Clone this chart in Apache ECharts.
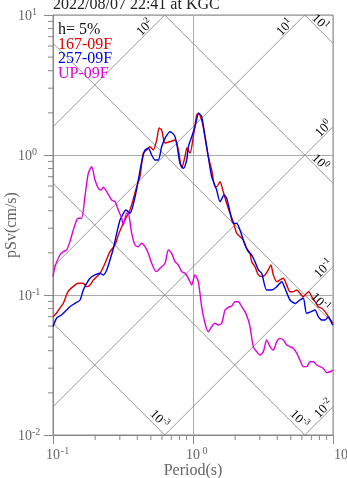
<!DOCTYPE html>
<html><head><meta charset="utf-8">
<script src="https://cdn.jsdelivr.net/npm/echarts@6/dist/echarts.min.js"></script>
<style>html,body{margin:0;padding:0;background:#fff;}#c{width:347px;height:478px;}</style>
</head><body><div id="c"></div>
<script>
// ---------- data ----------
const titleText = '2022/08/07 22:41 at KGC';
const legendLines = ['h= 5%', '167-09F', '257-09F', 'UP-09F'];
const seriesNames = ['167-09F', '257-09F', 'UP-09F'];
const xTicks = [0.1, 1, 10];
const yTicks = [0.01, 0.1, 1, 10];
const accelExps = [2, 1, 0, -1, -2];        // constant pSa lines (gal)
const dispExps = [1, 0, -1, -2, -3];        // constant Sd lines (cm)
const dispLabelExps = [1, 0, -1, -3, -3];   // labels as printed

const t167 = [0.1,0.106,0.112,0.1185,0.128,0.139,0.151,0.1645,0.174,0.1838,0.194,0.2167,0.235,0.2553,0.2773,0.2926,0.3096,0.3267,0.3548,0.3963,0.418,0.4416,0.4667,0.4931,0.52,0.5505,0.573,0.597,0.631,0.685,0.7438,0.7857,0.8303,0.877,0.905,0.9518,1.005,1.062,1.091,1.153,1.218,1.286,1.36,1.436,1.476,1.559,1.644,1.74,1.837,1.94,2.05,2.166,2.287,2.418,2.553,2.625,2.773,2.93,3.094,3.27,3.452,3.6,3.75,3.963,4.18,4.416,4.667,4.931,5.2,5.505,5.808,6.136,6.486,6.74,7.042,7.438,7.857,8.303,8.77,9.265,9.788,10];
const sv167 = [0.0695,0.0744,0.0806,0.0874,0.1056,0.1147,0.1212,0.1212,0.1147,0.118,0.128,0.143,0.168,0.204,0.2276,0.2683,0.3076,0.3436,0.4047,0.594,0.70,1.033,1.086,1.146,1.086,1.279,1.559,1.509,1.218,1.245,1.279,1.086,0.8075,0.9724,1.122,1.033,1.351,1.93,1.986,1.778,1.351,0.9724,0.7815,0.594,0.594,0.6446,0.547,0.4516,0.3835,0.332,0.2758,0.2609,0.247,0.2156,0.1985,0.173,0.1593,0.139,0.1352,0.139,0.151,0.1638,0.139,0.1245,0.128,0.1316,0.118,0.1056,0.1056,0.1086,0.1028,0.0972,0.1028,0.1056,0.0972,0.0896,0.0825,0.0804,0.076,0.070,0.0645,0.063];

const t257 = [0.1,0.106,0.115,0.125,0.132,0.1436,0.156,0.1645,0.174,0.1838,0.1995,0.2167,0.2287,0.242,0.2553,0.27,0.285,0.301,0.3096,0.332,0.3548,0.3855,0.4068,0.4301,0.454,0.4795,0.507,0.5354,0.565,0.597,0.631,0.685,0.734,0.7647,0.8077,0.853,0.9016,0.9265,0.9788,1.033,1.1,1.153,1.218,1.286,1.36,1.476,1.559,1.67,1.74,1.837,1.94,2.05,2.166,2.227,2.352,2.483,2.625,2.773,2.93,3.094,3.36,3.648,3.963,4.3,4.54,4.931,5.354,5.808,6.136,6.486,6.96,7.438,7.857,8.303,8.77,9.265,9.788,10];
const sv257 = [0.0594,0.0682,0.072,0.0781,0.0825,0.0872,0.0921,0.1086,0.1212,0.1316,0.139,0.1429,0.139,0.151,0.1778,0.2156,0.2758,0.3436,0.363,0.4047,0.3835,0.5036,0.663,0.896,1.086,1.117,1.0,0.921,0.921,1.146,1.316,1.466,1.39,1.212,0.873,0.8035,0.921,1.146,1.351,1.592,1.986,1.878,1.351,0.9724,0.70,0.5623,0.4637,0.518,0.49,0.3938,0.325,0.325,0.2912,0.2683,0.2276,0.204,0.193,0.173,0.151,0.1429,0.1086,0.1086,0.1147,0.1245,0.1116,0.0921,0.0872,0.0921,0.0947,0.074,0.076,0.0781,0.070,0.0663,0.0663,0.070,0.0628,0.0611];

const tUP = [0.1,0.1033,0.112,0.1185,0.125,0.132,0.1396,0.1476,0.1516,0.160,0.169,0.1787,0.189,0.1995,0.211,0.22,0.2287,0.242,0.2625,0.2773,0.2926,0.3096,0.3177,0.3358,0.345,0.3548,0.3648,0.3855,0.4068,0.4301,0.454,0.4795,0.507,0.545,0.5808,0.631,0.6664,0.7042,0.7438,0.7857,0.8303,0.877,0.9265,0.9788,1.033,1.091,1.153,1.218,1.286,1.36,1.436,1.517,1.603,1.693,1.788,1.889,1.995,2.107,2.227,2.352,2.483,2.553,2.697,2.851,3.01,3.18,3.36,3.548,3.75,3.963,4.18,4.416,4.667,4.931,5.2,5.505,5.808,6.136,6.486,6.85,7.236,7.647,8.077,8.53,9.016,9.518,10];
const svUP = [0.1352,0.1593,0.193,0.204,0.2097,0.2403,0.2912,0.3436,0.3533,0.3533,0.5036,0.74,0.825,0.663,0.578,0.5623,0.5877,0.547,0.4772,0.4637,0.4047,0.3533,0.3162,0.3835,0.3835,0.332,0.2758,0.2276,0.2214,0.234,0.2214,0.1985,0.1684,0.1468,0.155,0.1684,0.2097,0.1985,0.173,0.1638,0.1468,0.1429,0.1316,0.118,0.139,0.1245,0.0825,0.0628,0.0547,0.0594,0.0628,0.0611,0.0628,0.0781,0.0817,0.0834,0.0896,0.0896,0.0825,0.076,0.0663,0.0594,0.0428,0.0394,0.0373,0.0394,0.0477,0.0428,0.0405,0.0464,0.049,0.0477,0.044,0.0428,0.0416,0.0384,0.0343,0.0308,0.0308,0.0334,0.0334,0.0316,0.0308,0.0299,0.0279,0.0283,0.0291];

// ---------- style ----------
const serif = "'Liberation Serif','Times New Roman',serif";
const curveColors = ['#dd0000', '#0000dd', '#dd00dd'];
const axisGray = '#888';
const textGray = '#666';

const X_MIN = xTicks[0], X_MAX = xTicks[xTicks.length - 1];
const Y_MIN = yTicks[0], Y_MAX = yTicks[yTicks.length - 1];
const TWO_PI = 2 * Math.PI;
const MINOR = [2, 3, 4, 5, 6, 7, 8, 9];

function zip(t, v) { const n = Math.min(t.length, v.length); const out = []; for (let i = 0; i < n; i++) out.push([t[i], v[i]]); return out; }

function accelSeg(A) { // pSv = A*T/(2π)
  const t0 = Math.max(X_MIN, Y_MIN * TWO_PI / A), t1 = Math.min(X_MAX, Y_MAX * TWO_PI / A);
  return t0 < t1 ? [[t0, A * t0 / TWO_PI], [t1, A * t1 / TWO_PI]] : null;
}
function dispSeg(D) { // pSv = 2πD/T
  const t0 = Math.max(X_MIN, TWO_PI * D / Y_MAX), t1 = Math.min(X_MAX, TWO_PI * D / Y_MIN);
  return t0 < t1 ? [[t0, TWO_PI * D / t0], [t1, TWO_PI * D / t1]] : null;
}

const series = [];
const labelData = [];
accelExps.forEach((k, i) => {
  const seg = accelSeg(Math.pow(10, k)); if (!seg) return;
  series.push({ type: 'line', data: seg, symbol: 'none', silent: true, animation: false, z: 1,
    lineStyle: { color: '#8a8a8a', width: 0.9 } });
  const e = seg[1];
  labelData.push([e[0], e[1], 0, e[0] >= X_MAX * 0.999 ? 1 : 0, i]);
});
dispExps.forEach((k, i) => {
  const seg = dispSeg(Math.pow(10, k)); if (!seg) return;
  series.push({ type: 'line', data: seg, symbol: 'none', silent: true, animation: false, z: 1,
    lineStyle: { color: '#8a8a8a', width: 0.9 } });
  const e = seg[1];
  labelData.push([e[0], e[1], 1, e[0] >= X_MAX * 0.999 ? 1 : 0, i]);
});

const diagRich = {
  b: { fontFamily: serif, fontSize: 13, lineHeight: 15, color: textGray, verticalAlign: 'bottom' },
  s: { fontFamily: serif, fontSize: 9, lineHeight: 11, color: textGray, verticalAlign: 'top' }
};

series.push({
  type: 'custom', data: labelData, silent: true, animation: false, z: 3,
  renderItem: function (params, api) {
    const p = api.coord([api.value(0), api.value(1)]);
    const kind = api.value(2), edge = api.value(3), idx = api.value(4);
    const s = Math.SQRT1_2;
    let dir, nrm, rot, along, perp, exp;
    if (kind === 0) { dir = [-s, s]; nrm = [-s, -s]; rot = Math.PI / 4; along = edge ? 8 : 23; perp = 6; exp = accelExps[idx]; }
    else { dir = [-s, -s]; nrm = [s, -s]; rot = -Math.PI / 4; along = edge ? 24 : 15; perp = edge ? 6.5 : 8; exp = dispLabelExps[idx]; }
    return { type: 'text', x: p[0] + along * dir[0] + perp * nrm[0], y: p[1] + along * dir[1] + perp * nrm[1], rotation: rot,
      style: { text: '{b|10}{s|' + exp + '}', rich: diagRich, align: 'center', verticalAlign: 'middle' } };
  }
});

// minor ticks (2..9 within each decade)
const minorData = [];
for (let d = X_MIN; d < X_MAX * 0.999; d *= 10) MINOR.forEach(m => minorData.push([d * m, Y_MIN, 0]));
for (let d = Y_MIN; d < Y_MAX * 0.999; d *= 10) MINOR.forEach(m => minorData.push([X_MIN, d * m, 1]));
series.push({
  type: 'custom', data: minorData, silent: true, animation: false, z: 3,
  renderItem: function (params, api) {
    const p = api.coord([api.value(0), api.value(1)]);
    const shape = api.value(2) === 0 ? { x1: p[0], y1: p[1], x2: p[0], y2: p[1] + 5 } : { x1: p[0] - 5, y1: p[1], x2: p[0], y2: p[1] };
    return { type: 'line', shape: shape, style: { stroke: axisGray, lineWidth: 1 } };
  }
});

[[t167, sv167], [t257, sv257], [tUP, svUP]].forEach((tv, i) => {
  series.push({ type: 'line', name: seriesNames[i], data: zip(tv[0], tv[1]), symbol: 'none', smooth: 0.25,
    animation: false, z: 2, clip: true, lineStyle: { color: curveColors[i], width: 1.4 } });
});

const tickRich = {
  sp: { width: 10 },
  sp2: { width: 26 },
  b: { fontFamily: serif, fontSize: 14, lineHeight: 16, color: textGray, verticalAlign: 'bottom' },
  s: { fontFamily: serif, fontSize: 10, lineHeight: 12, color: textGray, verticalAlign: 'top', width: 10, align: 'left' }
};
const expOf = v => Math.round(Math.log10(v));

const chart = echarts.init(document.getElementById('c'), null, { renderer: 'canvas' });
chart.setOption({
  animation: false,
  backgroundColor: '#fff',
  title: { text: titleText, left: 53, top: -3, padding: 0,
    textStyle: { fontFamily: serif, fontSize: 16, fontWeight: 'normal', color: '#222' } },
  grid: { left: 53, top: 15, width: 280, height: 420, containLabel: false, outerBoundsMode: 'none',
    show: true, borderColor: axisGray, borderWidth: 1, backgroundColor: 'transparent' },
  xAxis: {
    type: 'log', logBase: 10, min: X_MIN, max: X_MAX,
    name: 'Period(s)', nameLocation: 'middle', nameGap: 28, nameMoveOverlap: false,
    nameTextStyle: { fontFamily: serif, fontSize: 16, color: textGray },
    axisLine: { lineStyle: { color: axisGray } },
    axisTick: { length: 9, lineStyle: { color: axisGray } },
    splitLine: { show: true, lineStyle: { color: '#aaa', width: 1 } },
    axisLabel: { margin: 11, rich: tickRich, hideOverlap: false,
      formatter: v => { const e = expOf(v); return (v >= X_MAX * 0.999 ? '{sp2|}' : '{sp|}') + '{b|10}{s|' + e + '}'; } }
  },
  yAxis: {
    type: 'log', logBase: 10, min: Y_MIN, max: Y_MAX,
    name: 'pSv(cm/s)', nameLocation: 'middle', nameGap: 33, nameMoveOverlap: false,
    nameTextStyle: { fontFamily: serif, fontSize: 16, color: textGray },
    axisLine: { lineStyle: { color: axisGray } },
    axisTick: { length: 9, lineStyle: { color: axisGray } },
    splitLine: { show: true, lineStyle: { color: '#aaa', width: 1 } },
    axisLabel: { margin: 35, align: 'left', rich: tickRich,
      formatter: v => '{b|10}{s|' + expOf(v) + '}' }
  },
  graphic: legendLines.map((t, i) => ({
    type: 'text', left: 58, top: 22 + i * 14.5, z: 10, silent: true,
    style: { text: t, fill: i === 0 ? '#111' : curveColors[i - 1], font: '16px ' + serif }
  })),
  series: series
});
</script>
</body></html>
